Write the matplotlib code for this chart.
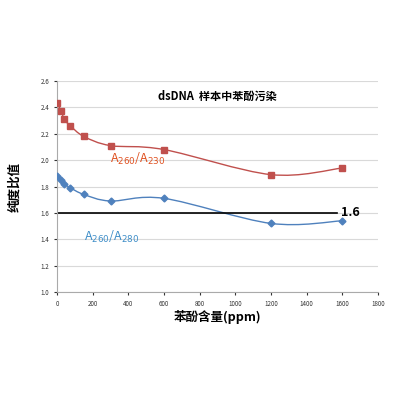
import matplotlib
matplotlib.use("Agg")
import matplotlib.pyplot as plt
import numpy as np
from matplotlib.path import Path
from matplotlib.patches import PathPatch

plt.rcParams['font.family'] = ['Noto Sans CJK SC', 'DejaVu Sans']

phenol_ppm = [0, 25, 40, 75, 150, 300, 600, 1200, 1600]
a260_230 = [2.43, 2.37, 2.31, 2.26, 2.18, 2.11, 2.08, 1.89, 1.94]
a260_280 = [1.88, 1.85, 1.82, 1.79, 1.74, 1.69, 1.71, 1.52, 1.54]
threshold = 1.6

fig = plt.figure(figsize=(4, 4), dpi=100)
ax = fig.add_axes([0.1425, 0.27, 0.8025, 0.5275])

def smooth(ax, x, y, color):
    x = np.asarray(x, float); y = np.asarray(y, float)
    verts = [(x[0], y[0])]; codes = [Path.MOVETO]
    n = len(x)
    for i in range(n - 1):
        p0 = (x[max(i-1, 0)], y[max(i-1, 0)]); p1 = (x[i], y[i])
        p2 = (x[i+1], y[i+1]); p3 = (x[min(i+2, n-1)], y[min(i+2, n-1)])
        t = 1/6
        c1 = (p1[0] + (p2[0]-p0[0])*t, p1[1] + (p2[1]-p0[1])*t)
        c2 = (p2[0] - (p3[0]-p1[0])*t, p2[1] - (p3[1]-p1[1])*t)
        verts += [c1, c2, p2]; codes += [Path.CURVE4]*3
    ax.add_patch(PathPatch(Path(verts, codes), fill=False, edgecolor=color, lw=1))

smooth(ax, phenol_ppm, a260_230, '#C0504D')
smooth(ax, phenol_ppm, a260_280, '#4F81BD')
ax.plot(phenol_ppm, a260_230, 's', color='#C0504D', ms=5, zorder=3)
ax.plot(phenol_ppm, a260_280, 'D', color='#4F81BD', ms=3.5, zorder=3)
ax.plot([0, 1570], [threshold, threshold], color='black', lw=1.2)
ax.text(1590, threshold, '1.6', fontsize=9, fontweight='bold', va='center')

ax.set_xlim(0, 1800); ax.set_ylim(1.0, 2.6)
ax.set_xticks(range(0, 1801, 200))
ax.set_yticks(np.arange(1.0, 2.61, 0.2))
ax.set_yticklabels([f'{v:.1f}' for v in np.arange(1.0, 2.61, 0.2)])
ax.tick_params(labelsize=4.5, length=2, colors='#333333')
ax.grid(axis='y', color='#d9d9d9', lw=0.8)
ax.set_axisbelow(True)
for s in ['top', 'right']:
    ax.spines[s].set_visible(False)
for s in ['left', 'bottom']:
    ax.spines[s].set_color('#aaaaaa')

ax.text(0.5, 0.96, 'dsDNA  样本中苯酚污染', transform=ax.transAxes, fontsize=8,
        fontweight='bold', ha='center', va='top')
ax.text(300, 1.98, r'A$_{260}$/A$_{230}$', color='#E0501F', fontsize=9)
ax.text(150, 1.39, r'A$_{260}$/A$_{280}$', color='#3C8DC8', fontsize=9)
ax.set_xlabel('苯酚含量(ppm)', fontsize=9, fontweight='bold', labelpad=2)
ax.set_ylabel('纯度比值', fontsize=9, fontweight='bold', labelpad=14)

fig.savefig('out.png')
